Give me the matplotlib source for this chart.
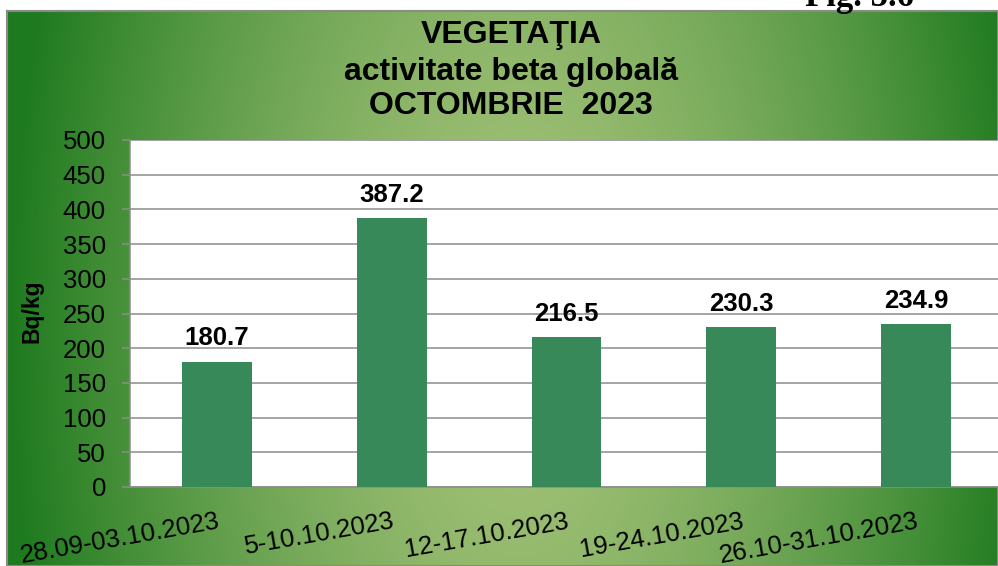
import numpy as np
import matplotlib.pyplot as plt

# data
periods = ['28.09-03.10.2023', '5-10.10.2023', '12-17.10.2023',
           '19-24.10.2023', '26.10-31.10.2023']
beta_values = [180.7, 387.2, 216.5, 230.3, 234.9]
y_ticks = [0, 50, 100, 150, 200, 250, 300, 350, 400, 450, 500]

W, H = 998, 566
fig = plt.figure(figsize=(W / 100, H / 100), dpi=100)
fig.patch.set_facecolor('white')

# green background of the chart box: light in the middle, dark at the sides
bg = fig.add_axes([7 / W, 0, 1 - 7 / W, 1 - 11 / H])
xx, yy = np.meshgrid(np.linspace(7, W, 400), np.linspace(11, H, 240))
d = np.sqrt(((xx - 520) / 510) ** 2 + ((yy - 330) / 1000) ** 2)
t = np.clip(d, 0, 1) ** 1.5
light = np.array([0.64, 0.76, 0.47])
dark = np.array([0.12, 0.48, 0.12])
img = light[None, None, :] * (1 - t[..., None]) + dark[None, None, :] * t[..., None]
bg.imshow(img, aspect='auto', extent=[0, 1, 0, 1], origin='upper')
bg.set_xticks([])
bg.set_yticks([])
for s in bg.spines.values():
    s.set_color('#8a8a8a')
    s.set_linewidth(1.5)

# plot area
ax = fig.add_axes([129.6 / W, 1 - 487 / H, 873.75 / W, 347 / H])
ax.set_facecolor('white')
x = np.arange(len(periods))
bars = ax.bar(x, beta_values, width=0.4, color='#37895A', zorder=3)
ax.set_xlim(-0.5, len(periods) - 0.5)
ax.set_ylim(0, 500)
ax.set_yticks(y_ticks)
ax.yaxis.grid(True, color='#8c8c8c', linewidth=1.1, zorder=0)
ax.set_axisbelow(True)

font = 'Liberation Sans'
ax.set_yticklabels([str(v) for v in y_ticks], fontsize=18.5, family=font)
ax.tick_params(axis='y', length=6, width=1.1, color='#8c8c8c', pad=11)
ax.set_xticks(x)
ax.set_xticklabels(periods, fontsize=18.5, family=font, rotation=10,
                   ha='right', va='top', rotation_mode='anchor')
ax.tick_params(axis='x', length=0, pad=16)

for s in ['top', 'right']:
    ax.spines[s].set_visible(False)
for s in ['left', 'bottom']:
    ax.spines[s].set_color('#8c8c8c')
    ax.spines[s].set_linewidth(1.1)

# value labels
for b, v in zip(bars, beta_values):
    ax.annotate(f'{v:.1f}', (b.get_x() + b.get_width() / 2, v),
                xytext=(0, 8), textcoords='offset points',
                ha='center', va='bottom', fontsize=18.5, fontweight='bold',
                family=font)

# titles
fig.text(511 / W, 1 - 35 / H, 'VEGETAŢIA', ha='center', va='center',
         fontsize=23, fontweight='bold', family=font)
fig.text(511 / W, 1 - 72 / H, 'activitate beta globală', ha='center', va='center',
         fontsize=23, fontweight='bold', family=font)
fig.text(511 / W, 1 - 106 / H, 'OCTOMBRIE  2023', ha='center', va='center',
         fontsize=23, fontweight='bold', family=font)

fig.text(32 / W, 1 - 311 / H, 'Bq/kg', rotation=90, ha='center', va='center',
         fontsize=16.5, fontweight='bold', family=font)

# page header, cropped at the top edge as in the source
fig.text(805 / W, 1 - 6 / H, 'Fig. 5.6', ha='left', va='baseline',
         fontsize=25, fontweight='bold', family='Liberation Serif')

fig.savefig('out.png', dpi=100)
